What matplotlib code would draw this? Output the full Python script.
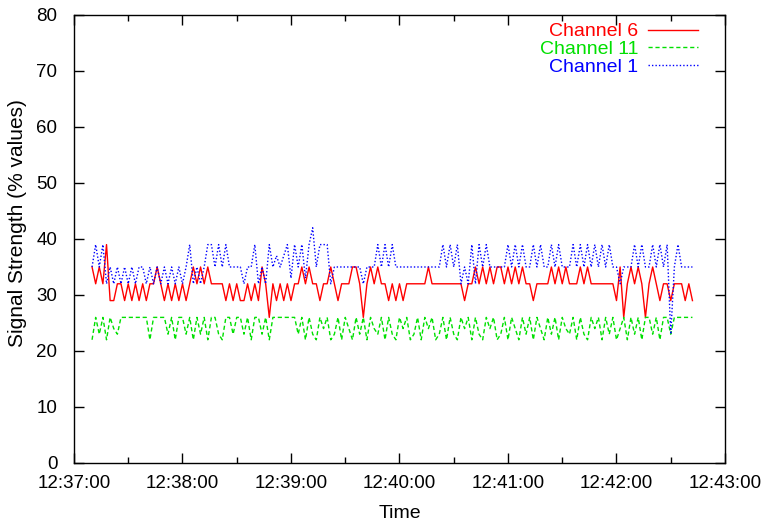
import matplotlib
matplotlib.use("Agg")
import matplotlib.pyplot as plt
from matplotlib.ticker import MultipleLocator
import numpy as np

plt.rcParams['font.family'] = ['Liberation Sans', 'DejaVu Sans']

# sample times: seconds after 12:37:00, one reading every 2 s
t_start = 10
t_step = 2

channel6 = [
    35, 32, 35, 32, 39, 29, 29, 32, 32, 29,
    32, 29, 32, 29, 32, 29, 32, 32, 35, 32,
    29, 32, 29, 32, 29, 32, 29, 32, 35, 32,
    35, 32, 35, 32, 32, 32, 32, 29, 32, 29,
    32, 29, 29, 32, 29, 32, 29, 35, 32, 26,
    32, 29, 32, 29, 32, 29, 32, 32, 35, 32,
    35, 32, 32, 29, 32, 32, 35, 32, 29, 32,
    32, 32, 35, 35, 32, 26, 32, 35, 32, 35,
    32, 32, 29, 32, 29, 32, 29, 32, 32, 32,
    32, 32, 32, 35, 32, 32, 32, 32, 32, 32,
    32, 32, 32, 29, 32, 32, 35, 32, 35, 32,
    35, 32, 35, 35, 32, 35, 32, 35, 32, 35,
    32, 32, 29, 32, 32, 32, 32, 35, 32, 35,
    32, 35, 32, 32, 32, 35, 32, 35, 32, 32,
    32, 32, 32, 32, 32, 29, 35, 26, 32, 35,
    32, 35, 32, 26, 32, 35, 32, 29, 32, 32,
    29, 32, 32, 32, 29, 32, 29,
]

channel11 = [
    22, 26, 23, 26, 22, 26, 24, 23, 26, 26,
    26, 26, 26, 26, 26, 26, 22, 26, 26, 26,
    26, 23, 26, 22, 26, 26, 23, 26, 22, 26,
    23, 26, 22, 26, 26, 23, 22, 26, 26, 23,
    26, 26, 23, 26, 22, 26, 26, 23, 26, 22,
    26, 26, 26, 26, 26, 26, 26, 23, 26, 22,
    26, 23, 22, 26, 24, 26, 22, 23, 26, 22,
    26, 24, 22, 26, 23, 26, 22, 26, 24, 23,
    26, 22, 26, 23, 22, 26, 24, 26, 22, 23,
    26, 22, 26, 24, 26, 22, 23, 26, 22, 26,
    23, 22, 26, 24, 26, 22, 26, 23, 22, 26,
    24, 26, 22, 23, 26, 22, 26, 24, 22, 26,
    23, 26, 22, 26, 24, 22, 26, 23, 26, 22,
    26, 24, 23, 26, 22, 26, 23, 22, 26, 24,
    26, 22, 26, 23, 26, 22, 24, 26, 22, 26,
    23, 26, 22, 26, 26, 23, 26, 22, 26, 26,
    23, 26, 26, 26, 26, 26, 26,
]

channel1 = [
    35, 39, 35, 39, 32, 35, 32, 35, 32, 35,
    32, 35, 32, 35, 35, 32, 35, 32, 35, 32,
    35, 32, 35, 32, 35, 32, 35, 39, 32, 35,
    32, 35, 39, 39, 35, 39, 35, 39, 35, 35,
    35, 35, 32, 35, 35, 39, 32, 35, 32, 39,
    35, 37, 35, 37, 39, 33, 39, 35, 39, 33,
    39, 42, 35, 39, 39, 39, 32, 35, 35, 35,
    35, 35, 35, 35, 35, 32, 35, 35, 35, 39,
    35, 39, 35, 39, 35, 35, 35, 35, 35, 35,
    35, 35, 35, 35, 35, 35, 35, 39, 35, 39,
    35, 39, 32, 35, 32, 39, 32, 39, 35, 39,
    35, 35, 35, 35, 35, 39, 35, 39, 35, 39,
    35, 35, 39, 35, 39, 35, 35, 39, 35, 39,
    35, 35, 35, 39, 35, 39, 35, 39, 35, 39,
    35, 39, 35, 39, 35, 35, 32, 35, 35, 35,
    39, 35, 39, 35, 35, 39, 35, 39, 35, 39,
    23, 35, 39, 35, 35, 35, 35,
]

tick_seconds = [0, 60, 120, 180, 240, 300, 360]
tick_labels = ['12:37:00', '12:38:00', '12:39:00', '12:40:00',
               '12:41:00', '12:42:00', '12:43:00']

t = t_start + t_step * np.arange(len(channel6))

fig = plt.figure(figsize=(7.61, 5.26), dpi=100)
ax = fig.add_axes([0.0972, 0.1198, 0.9527 - 0.0972, 0.9715 - 0.1198])

ax.plot(t, channel6, color='#ff0000', lw=1.0, label='Channel 6')
ax.plot(t, channel11, color='#00e000', lw=1.0, dashes=(3, 2), label='Channel 11')
ax.plot(t, channel1, color='#0000ff', lw=1.0, dashes=(1, 1.5), label='Channel 1')

ax.set_xlim(0, 360)
ax.set_ylim(0, 80)
ax.set_xticks(tick_seconds)
ax.set_xticklabels(tick_labels)
ax.xaxis.set_minor_locator(MultipleLocator(30))
ax.yaxis.set_major_locator(MultipleLocator(10))

ax.tick_params(which='both', direction='in', top=True, right=True,
               labelsize=13.5, width=1, color='black')
ax.tick_params(axis='x', pad=9)
ax.tick_params(axis='y', pad=12)
ax.tick_params(which='major', length=7)
ax.tick_params(which='minor', length=4)
for s in ax.spines.values():
    s.set_linewidth(1.0)

ax.set_xlabel('Time', fontsize=14, labelpad=9)
ax.set_ylabel('Signal Strength (% values)', fontsize=15)
ax.yaxis.set_label_coords(-0.072, 0.536)

leg = ax.legend(loc='upper right', bbox_to_anchor=(0.971, 1.0),
                frameon=False, markerfirst=False,
                fontsize=14, labelcolor='linecolor', handlelength=2.6,
                handletextpad=0.5, labelspacing=0.0, borderaxespad=0.0)

fig.savefig('out.png', dpi=100)
